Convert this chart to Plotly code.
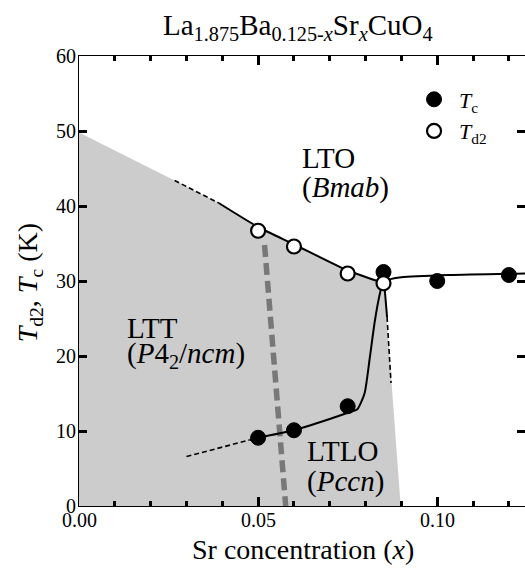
import plotly.graph_objects as go

# Measured transition temperatures
x_tc = [0.050, 0.060, 0.075, 0.085, 0.100, 0.120]
tc = [9.1, 10.1, 13.3, 31.2, 30.0, 30.8]

x_td2 = [0.050, 0.060, 0.075, 0.085]
td2 = [36.7, 34.6, 31.0, 29.7]

# Guide-to-the-eye curves
tc_guide_x = [0.0476, 0.050, 0.060, 0.070, 0.0760, 0.0777, 0.0797, 0.0811, 0.0825, 0.0838, 0.0848,
              0.0867, 0.090, 0.1033, 0.1245]
tc_guide_y = [8.8, 9.1, 10.1, 11.6, 12.6, 12.9, 15.0, 19.5, 24.4, 27.9, 29.7,
              30.2, 30.5, 30.8, 31.0]
tc_ext_x = [0.030, 0.0476]
tc_ext_y = [6.6, 8.8]

td2_guide_x = [0.039, 0.050, 0.060, 0.075, 0.0852]
td2_guide_y = [40.4, 37.2, 34.9, 31.4, 29.7]
td2_ext_x = [0.0267, 0.039]
td2_ext_y = [43.4, 40.4]

branch_x = [0.0852, 0.0860]
branch_y = [29.7, 25.2]
branch_ext_x = [0.0860, 0.0871]
branch_ext_y = [25.2, 16.4]

# LTT / LTLO region (shaded)
ltt_x = [0.0, 0.0267] + td2_guide_x + [0.0898, 0.0]
ltt_y = [49.8, 43.4] + td2_guide_y + [0.0, 0.0]

# LTT-LTLO boundary
bound_x = [0.0518, 0.0577]
bound_y = [34.8, 0.0]

# Tick labels
x_ticks = [0.0, 0.05, 0.10]
x_ticktext = ["0.00", "0.05", "0.10"]
y_ticks = [0, 10, 20, 30, 40, 50, 60]

SERIF = "Liberation Serif"

fig = go.Figure()

fig.add_trace(go.Scatter(x=ltt_x, y=ltt_y, fill="toself", mode="none",
                         fillcolor="rgb(204,204,204)", showlegend=False, hoverinfo="skip"))

fig.add_trace(go.Scatter(x=bound_x, y=bound_y, mode="lines",
                         line=dict(color="rgb(120,120,120)", width=5.5, dash="12px,6px"),
                         showlegend=False))

solid = dict(color="black", width=2)
dashed = dict(color="black", width=1.6, dash="5px,3px")
for gx, gy, st in [(tc_guide_x, tc_guide_y, solid), (tc_ext_x, tc_ext_y, dashed),
                   (td2_guide_x, td2_guide_y, solid), (td2_ext_x, td2_ext_y, dashed),
                   (branch_x, branch_y, solid), (branch_ext_x, branch_ext_y, dashed)]:
    fig.add_trace(go.Scatter(x=gx, y=gy, mode="lines", line=dict(st, shape="spline", smoothing=0.6),
                             showlegend=False))

fig.add_trace(go.Scatter(x=x_tc, y=tc, mode="markers", name="<i>T</i><sub>c</sub>",
                         marker=dict(size=15, color="black", line=dict(color="black", width=1))))
fig.add_trace(go.Scatter(x=x_td2, y=td2, mode="markers", name="<i>T</i><sub>d2</sub>",
                         marker=dict(size=14, color="white", line=dict(color="black", width=2.2))))

# Phase labels
labels = [
    (0.0617, 46.4, "LTO"), (0.0617, 42.5, "(<i>Bmab</i>)"),
    (0.0128, 23.8, "LTT"), (0.0128, 20.2, "(<i>P</i>4<sub>2</sub>/<i>ncm</i>)"),
    (0.0631, 7.3, "LTLO"), (0.0631, 3.3, "(<i>Pccn</i>)"),
]
for lx, ly, txt in labels:
    fig.add_annotation(x=lx, y=ly, text=txt, showarrow=False, xanchor="left", yanchor="middle",
                       font=dict(family=SERIF, size=29, color="black"))

# Tick labels
for v, t in zip(x_ticks, x_ticktext):
    fig.add_annotation(x=v, y=0, xref="x", yref="paper", text=t, showarrow=False,
                       xanchor="center", yanchor="top", yshift=-1,
                       font=dict(family=SERIF, size=20, color="black"))
for v in y_ticks:
    fig.add_annotation(x=0, y=v, xref="paper", yref="y", text=str(v), showarrow=False,
                       xanchor="right", yanchor="middle", xshift=-1,
                       font=dict(family=SERIF, size=20, color="black"))

# Title and axis titles
fig.add_annotation(x=0.491, y=1.064, xref="paper", yref="paper", showarrow=False,
                   xanchor="center", yanchor="middle",
                   text="La<sub>1.875</sub>Ba<sub>0.125-<i>x</i></sub>Sr<sub><i>x</i></sub>CuO<sub>4</sub>",
                   font=dict(family=SERIF, size=29, color="black"))
fig.add_annotation(x=0.502, y=-0.096, xref="paper", yref="paper", showarrow=False,
                   xanchor="center", yanchor="middle", text="Sr concentration (<i>x</i>)",
                   font=dict(family=SERIF, size=28, color="black"))
fig.add_annotation(x=-0.112, y=0.495, xref="paper", yref="paper", showarrow=False,
                   xanchor="center", yanchor="middle", textangle=-90,
                   text="<i>T</i><sub>d2</sub>, <i>T</i><sub>c</sub> (K)",
                   font=dict(family=SERIF, size=28, color="black"))

fig.update_layout(
    width=525, height=569,
    margin=dict(l=79, r=0, t=56, b=63),
    plot_bgcolor="white",
    xaxis=dict(range=[0, 0.1245], tick0=0, dtick=0.05, showticklabels=False,
               ticks="inside", ticklen=9, tickwidth=2.5, tickcolor="black",
               showline=True, linecolor="black", mirror="allticks", layer="above traces",
               minor=dict(dtick=0.01, tick0=0, ticklen=5, ticks="inside", tickcolor="black",
                          tickwidth=2.5)),
    yaxis=dict(range=[0, 60], tick0=0, dtick=10, showticklabels=False,
               ticks="inside", ticklen=8, tickwidth=2.5, tickcolor="black",
               showline=True, linecolor="black", mirror="ticks", layer="above traces"),
    legend=dict(x=0.74, y=0.95, xanchor="left", yanchor="top", bgcolor="rgba(0,0,0,0)",
                font=dict(family=SERIF, size=22, color="black"), itemwidth=40),
)

fig.write_html("out.html")
